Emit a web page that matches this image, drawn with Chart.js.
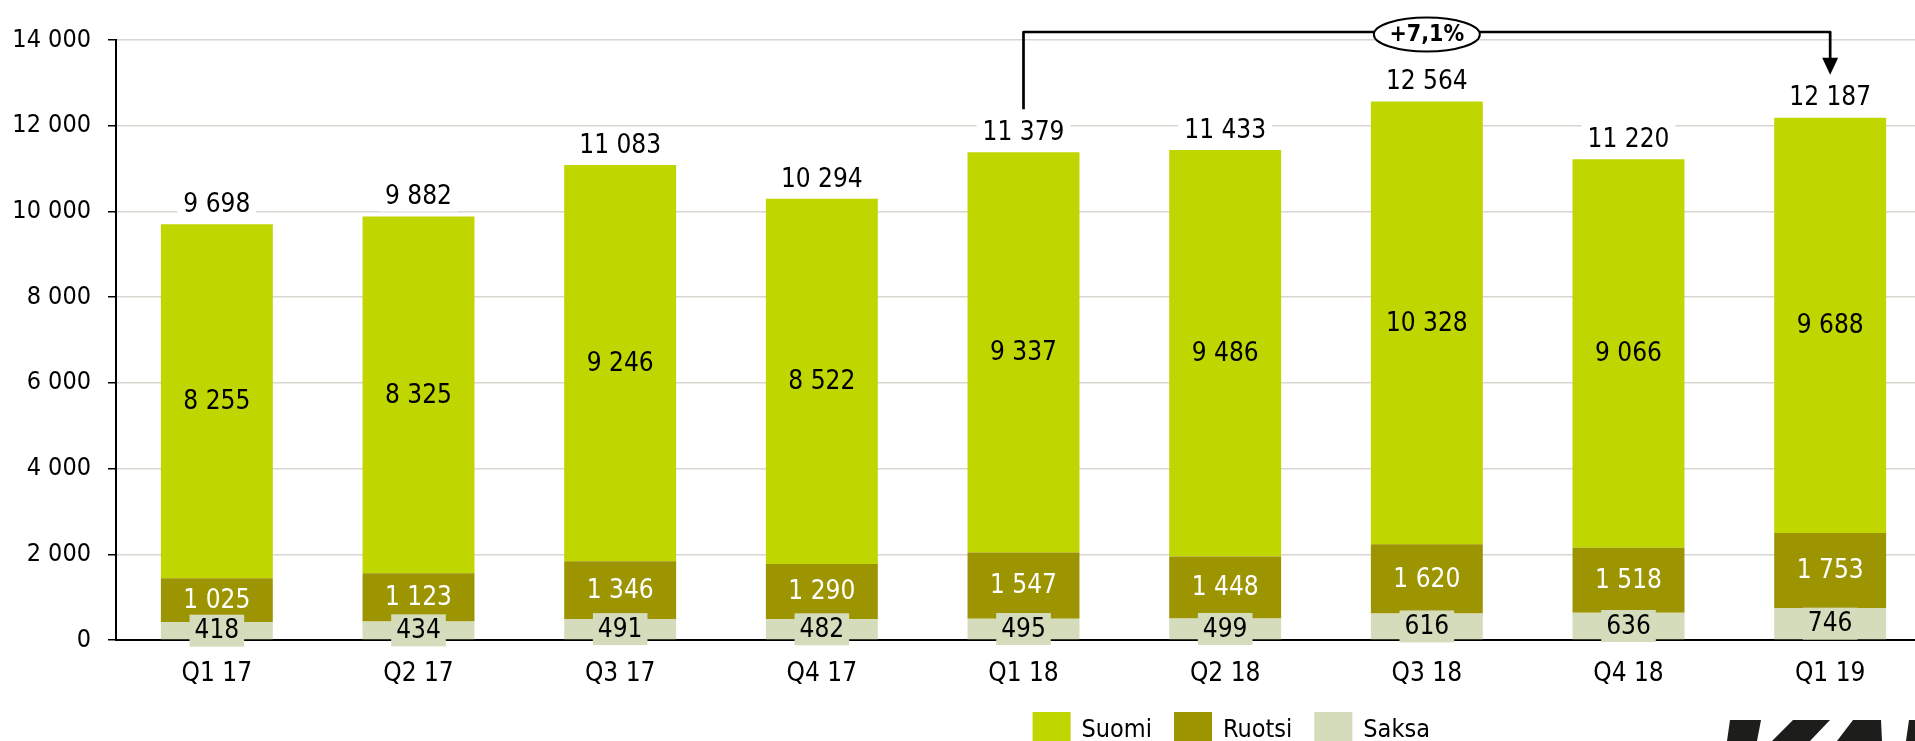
<!DOCTYPE html>
<html>
<head>
<meta charset="utf-8">
<script src="https://cdn.jsdelivr.net/npm/chart.js@4.4.1/dist/chart.umd.min.js"></script>
<style>
  html, body { margin: 0; padding: 0; background: #fff; overflow: hidden; }
  #wrap { width: 1950px; height: 741px; }
</style>
</head>
<body>
<div id="wrap"><canvas id="c" width="1950" height="741"></canvas></div>
<script>
const categories = ['Q1 17', 'Q2 17', 'Q3 17', 'Q4 17', 'Q1 18', 'Q2 18', 'Q3 18', 'Q4 18', 'Q1 19'];
const suomi  = [8255, 8325, 9246, 8522, 9337, 9486, 10328, 9066, 9688];
const ruotsi = [1025, 1123, 1346, 1290, 1547, 1448, 1620, 1518, 1753];
const saksa  = [418, 434, 491, 482, 495, 499, 616, 636, 746];
const totals = [9698, 9882, 11083, 10294, 11379, 11433, 12564, 11220, 12187];
const yTicks = [0, 2000, 4000, 6000, 8000, 10000, 12000, 14000];
const changeLabel = '+7,1%';
const changeFrom = 4, changeTo = 8;

const FONT = "'DejaVu Sans Condensed', 'DejaVu Sans', sans-serif";
const C_SUOMI = '#bfd600', C_RUOTSI = '#9c9400', C_SAKSA = '#d4dcbc';

function fmt(v) { return String(v).replace(/\B(?=(\d{3})+(?!\d))/g, ' '); }

const labelsPlugin = {
  id: 'labels',
  afterDatasetsDraw(chart) {
    const ctx = chart.ctx;
    ctx.save();
    ctx.font = '26px ' + FONT;
    ctx.textAlign = 'center';
    ctx.textBaseline = 'middle';
    const dsMeta = chart.data.datasets.map((d, i) => chart.getDatasetMeta(i));
    dsMeta[2].data.forEach((el, i) => {
      const cy = (el.y + el.base) / 2;
      ctx.fillStyle = '#000';
      ctx.fillText(fmt(suomi[i]), el.x, cy + 1);
    });
    dsMeta[1].data.forEach((el, i) => {
      const cy = (el.y + el.base) / 2;
      ctx.fillStyle = '#fff';
      ctx.fillText(fmt(ruotsi[i]), el.x, cy + 1);
    });
    dsMeta[0].data.forEach((el, i) => {
      const cy = (el.y + el.base) / 2;
      const t = fmt(saksa[i]);
      const w = ctx.measureText(t).width + 10;
      ctx.fillStyle = C_SAKSA;
      ctx.fillRect(el.x - w / 2, cy - 16, w, 32);
      ctx.fillStyle = '#000';
      ctx.fillText(t, el.x, cy + 1);
    });
    dsMeta[2].data.forEach((el, i) => {
      const cy = el.y - 20;
      const t = fmt(totals[i]);
      const w = ctx.measureText(t).width + 12;
      ctx.fillStyle = '#fff';
      ctx.fillRect(el.x - w / 2, cy - 15, w, 30);
      ctx.fillStyle = '#000';
      ctx.fillText(t, el.x, cy + 1);
    });
    ctx.restore();
  },
  afterDraw(chart) {
    const ctx = chart.ctx;
    const ca = chart.chartArea;
    const xs = chart.scales.x;
    const meta = chart.getDatasetMeta(2);
    const x1 = xs.getPixelForValue(changeFrom), x2 = xs.getPixelForValue(changeTo);
    const topY = ca.top - 8;
    const y1 = meta.data[changeFrom].y - 43;
    const tip = meta.data[changeTo].y - 43;
    ctx.save();
    ctx.strokeStyle = '#000';
    ctx.lineWidth = 2.7;
    ctx.lineJoin = 'round';
    ctx.beginPath();
    ctx.moveTo(x1, y1);
    ctx.lineTo(x1, topY);
    ctx.lineTo(x2, topY);
    ctx.lineTo(x2, tip - 15);
    ctx.stroke();
    ctx.fillStyle = '#000';
    ctx.beginPath();
    ctx.moveTo(x2 - 8, tip - 17);
    ctx.lineTo(x2 + 8, tip - 17);
    ctx.lineTo(x2, tip);
    ctx.closePath();
    ctx.fill();
    const ex = (x1 + x2) / 2, ey = topY + 2.5;
    ctx.beginPath();
    ctx.ellipse(ex, ey, 53, 17, 0, 0, Math.PI * 2);
    ctx.fillStyle = '#fff';
    ctx.fill();
    ctx.lineWidth = 2;
    ctx.stroke();
    ctx.fillStyle = '#000';
    ctx.font = 'bold 23px ' + FONT;
    ctx.textAlign = 'center';
    ctx.textBaseline = 'middle';
    ctx.fillText(changeLabel, ex, ey + 1);

    const items = [2, 1, 0].map(i => chart.data.datasets[i]);
    let lx = ca.left + (ca.right - ca.left) * 0.505;
    const by = 712;
    ctx.font = '25px ' + FONT;
    ctx.textAlign = 'left';
    ctx.textBaseline = 'alphabetic';
    items.forEach(ds => {
      ctx.fillStyle = ds.backgroundColor;
      ctx.fillRect(lx, by, 38, 38);
      ctx.fillStyle = '#000';
      ctx.fillText(ds.label, lx + 49, 737);
      lx += 49 + ctx.measureText(ds.label).width + 22;
    });

    ctx.fillStyle = '#1d1d1b';
    const polys = [
      [[1730, 720], [1761, 720], [1757, 741], [1727, 741]],
      [[1793, 720], [1830, 720], [1810, 741], [1772, 741]],
      [[1853, 720], [1881, 720], [1882, 741], [1837, 741]],
      [[1909, 720], [1950, 720], [1950, 741], [1906, 741]]
    ];
    polys.forEach(p => {
      ctx.beginPath();
      ctx.moveTo(p[0][0], p[0][1]);
      for (let k = 1; k < p.length; k++) ctx.lineTo(p[k][0], p[k][1]);
      ctx.closePath();
      ctx.fill();
    });
    ctx.restore();
  }
};

new Chart(document.getElementById('c'), {
  type: 'bar',
  data: {
    labels: categories,
    datasets: [
      { label: 'Saksa', data: saksa, backgroundColor: C_SAKSA },
      { label: 'Ruotsi', data: ruotsi, backgroundColor: C_RUOTSI },
      { label: 'Suomi', data: suomi, backgroundColor: C_SUOMI }
    ]
  },
  options: {
    responsive: false,
    animation: false,
    layout: { padding: { top: 40, left: 0, right: 19, bottom: 0 } },
    datasets: { bar: { categoryPercentage: 1, barPercentage: 0.555, borderWidth: 0 } },
    plugins: { legend: { display: false }, tooltip: { enabled: false } },
    scales: {
      x: {
        stacked: true,
        grid: { display: false, drawTicks: false },
        border: { display: true, color: '#000', width: 2 },
        ticks: { color: '#000', font: { family: FONT, size: 26 }, padding: 19, maxRotation: 0 },
        afterFit(s) { s.height = 101; }
      },
      y: {
        stacked: true,
        min: 0, max: 14000,
        afterBuildTicks(s) { s.ticks = yTicks.map(v => ({ value: v })); },
        grid: { color: '#d9d6d0', lineWidth: 1.5, tickColor: '#000', tickLength: 8, drawTicks: true },
        border: { display: true, color: '#000', width: 2 },
        ticks: { color: '#000', font: { family: FONT, size: 25 }, padding: 17, callback: v => fmt(v) },
        afterFit(s) { s.width = 116; }
      }
    }
  },
  plugins: [labelsPlugin]
});
</script>
</body>
</html>
